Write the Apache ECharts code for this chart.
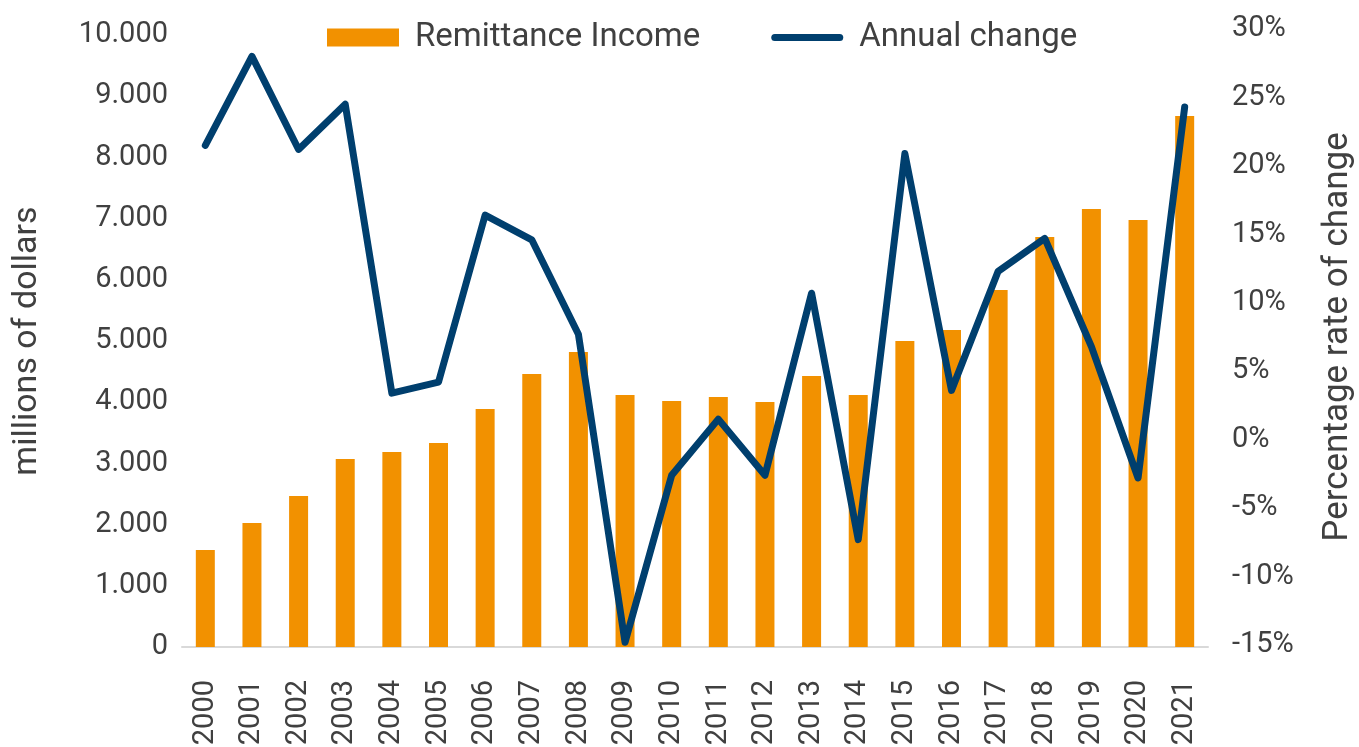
<!DOCTYPE html>
<html>
<head>
<meta charset="utf-8">
<script src="https://cdn.jsdelivr.net/npm/echarts@6/dist/echarts.min.js"></script>
<style>
  html, body { margin: 0; padding: 0; background: #fff; }
  #chart { width: 1359px; height: 747px; }
</style>
</head>
<body>
<div id="chart"></div>
<script>
// years on the x axis
var years = ['2000','2001','2002','2003','2004','2005','2006','2007','2008','2009','2010',
             '2011','2012','2013','2014','2015','2016','2017','2018','2019','2020','2021'];
// remittance income, millions of dollars
var remittance = [1585, 2026, 2467, 3072, 3186, 3333, 3889, 4461, 4820, 4118, 4020,
                  4085, 4003, 4428, 4118, 5000, 5180, 5833, 6699, 7157, 6977, 8676];
// annual change, %
var annualChange = [21.5, 28.0, 21.2, 24.5, 3.4, 4.2, 16.4, 14.6, 7.7, -14.8, -2.6,
                    1.5, -2.6, 10.7, -7.3, 20.9, 3.6, 12.3, 14.7, 6.8, -2.8, 24.3];

var txt = '#404040';
var chart = echarts.init(document.getElementById('chart'));
var option = {
    animation: false,
    textStyle: { fontFamily: 'Roboto' },
    legend: {
        left: 322,
        top: 16,
        itemWidth: 72,
        itemHeight: 18,
        itemGap: 71,
        textStyle: { color: txt, fontSize: 33, padding: [0, 0, 0, 11] },
        data: [
            { name: 'Remittance Income', icon: 'rect' },
            { name: 'Annual change',
              icon: 'path://M3.5,0 L68.5,0 A3.5,3.5 0 0 1 68.5,7 L3.5,7 A3.5,3.5 0 0 1 3.5,0 Z' }
        ]
    },
    // bars use the first grid, the line the second (right axis sits a little higher)
    grid: [
        { left: 182, right: 151, top: 35, bottom: 100, outerBoundsMode: 'none' },
        { left: 182, right: 151, top: 29, bottom: 102, outerBoundsMode: 'none' }
    ],
    xAxis: [
        {
            type: 'category',
            gridIndex: 0,
            data: years,
            axisLine: { show: true, lineStyle: { color: '#d9d9d9', width: 2 } },
            axisTick: { show: false },
            axisLabel: { color: txt, fontSize: 29, rotate: 90, margin: 33 }
        },
        {
            type: 'category',
            gridIndex: 1,
            data: years,
            show: false
        }
    ],
    yAxis: [
        {
            type: 'value',
            gridIndex: 0,
            min: 0,
            max: 10000,
            interval: 1000,
            name: 'millions of dollars',
            nameLocation: 'middle',
            nameGap: 138,
            nameRotate: 90,
            nameTextStyle: { color: txt, fontSize: 34 },
            splitLine: { show: false },
            axisLine: { show: false },
            axisTick: { show: false },
            axisLabel: {
                color: txt,
                fontSize: 29,
                margin: 14,
                formatter: function (v) {
                    return v === 0 ? '0' : (v / 1000).toFixed(3);
                }
            }
        },
        {
            type: 'value',
            gridIndex: 1,
            position: 'right',
            min: -15,
            max: 30,
            interval: 5,
            name: 'Percentage rate of change',
            nameLocation: 'middle',
            nameGap: 113,
            nameRotate: 90,
            nameTextStyle: { color: txt, fontSize: 35 },
            splitLine: { show: false },
            axisLine: { show: false },
            axisTick: { show: false },
            axisLabel: { color: txt, fontSize: 29, margin: 24, formatter: '{value}%' }
        }
    ],
    series: [
        {
            name: 'Remittance Income',
            type: 'bar',
            xAxisIndex: 0,
            yAxisIndex: 0,
            barWidth: 19,
            itemStyle: { color: '#f29100' },
            data: remittance
        },
        {
            name: 'Annual change',
            type: 'line',
            xAxisIndex: 1,
            yAxisIndex: 1,
            showSymbol: false,
            symbol: 'none',
            lineStyle: { color: '#003f6e', width: 7, cap: 'round', join: 'round' },
            itemStyle: { color: '#003f6e' },
            data: annualChange
        }
    ]
};
chart.setOption(option);
window.onresize = chart.resize;
</script>
</body>
</html>
